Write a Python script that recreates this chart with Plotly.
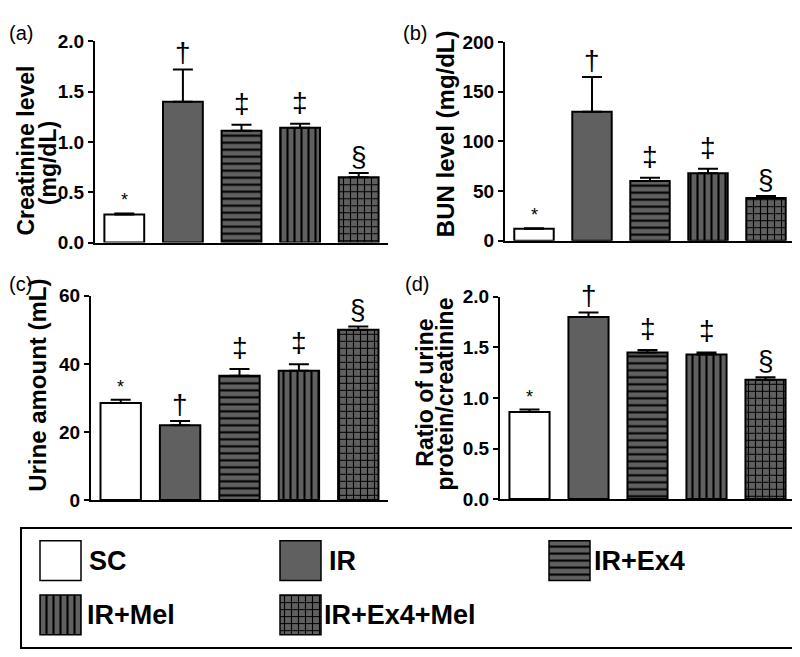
import plotly.graph_objects as go

# ---------------- data ----------------
groups = ["SC", "IR", "IR+Ex4", "IR+Mel", "IR+Ex4+Mel"]
marks = ["*", "†", "‡", "‡", "§"]

creat_mean = [0.28, 1.40, 1.11, 1.14, 0.65]
creat_sem = [0.01, 0.32, 0.06, 0.04, 0.04]

bun_mean = [12, 130, 60, 68, 43]
bun_sem = [0.5, 35, 3.5, 4.5, 2]

urine_mean = [28.5, 22.0, 36.5, 38.0, 50.0]
urine_sem = [1.0, 1.2, 2.0, 1.9, 1.0]

ratio_mean = [0.86, 1.80, 1.45, 1.43, 1.18]
ratio_sem = [0.025, 0.045, 0.025, 0.02, 0.025]

panels = [
    dict(letter="(a)", mean=creat_mean, sem=creat_sem, yrange=[0, 2.0], dtick=0.5, fmt=".1f",
         title=["Creatinine level", "(mg/dL)"]),
    dict(letter="(b)", mean=bun_mean, sem=bun_sem, yrange=[0, 200], dtick=50, fmt="d",
         title=["BUN level (mg/dL)"]),
    dict(letter="(c)", mean=urine_mean, sem=urine_sem, yrange=[0, 60], dtick=20, fmt="d",
         title=["Urine amount (mL)"]),
    dict(letter="(d)", mean=ratio_mean, sem=ratio_sem, yrange=[0, 2.0], dtick=0.5, fmt=".1f",
         title=["Ratio of urine", "protein/creatinine"]),
]

# ---------------- layout / style ----------------
W, H = 800, 657
GRAY = "#606060"
styles = [
    dict(color="white", pattern=dict(shape="")),
    dict(color=GRAY, pattern=dict(shape="")),
    dict(color=GRAY, pattern=dict(shape="-", fgcolor="black", bgcolor=GRAY, size=7, solidity=0.3, fillmode="replace")),
    dict(color=GRAY, pattern=dict(shape="|", fgcolor="black", bgcolor=GRAY, size=7, solidity=0.3, fillmode="replace")),
    dict(color=GRAY, pattern=dict(shape="+", fgcolor="black", bgcolor=GRAY, size=7, solidity=0.3, fillmode="replace")),
]
mark_shift = {"*": 2, "†": 0, "‡": 5, "§": 0}

# pixel boxes of each plot area: (x_left, x_right, y_top, y_bottom)
boxes = [(87, 380, 24, 232), (497, 787, 25, 230), (83, 380, 287, 498), (492, 787, 288, 497)]
letter_pos = [(0, 3), (394, 3), (0, 262), (396, 262)]
title_pos = [[(18, 137), (40, 150)], [(437, 120)], [(30, 380)], [(417, 387), (437, 389)]]
title_size = [23, 24, 24, 23]

FONT = "Liberation Sans, Arial, sans-serif"


def px(x):
    return x / W


def py(y):
    return 1 - y / H


fig = go.Figure()
annotations = []
for i, p in enumerate(panels):
    n = "" if i == 0 else str(i + 1)
    xa, ya = "x" + n, "y" + n
    for j, g in enumerate(groups):
        st = styles[j]
        fig.add_trace(go.Bar(
            x=[j], y=[p["mean"][j]], xaxis=xa, yaxis=ya, width=0.68, showlegend=False,
            marker=dict(color=st["color"], pattern=st["pattern"], line=dict(color="black", width=2)),
            error_y=dict(type="data", symmetric=False, array=[p["sem"][j]], arrayminus=[0],
                         color="black", thickness=2, width=10),
        ))
        top = p["mean"][j] + p["sem"][j]
        annotations.append(dict(
            x=j, y=top, xref=xa, yref=ya, text=marks[j], showarrow=False, yanchor="bottom",
            yshift=mark_shift[marks[j]], borderpad=0,
            font=dict(family=FONT, size=18 if marks[j] == "*" else 28, color="black"),
        ))
    x0, x1, y0, y1 = boxes[i]
    fig.layout["xaxis" + n] = dict(domain=[px(x0), px(x1)], range=[-0.5, 4.5], anchor=ya,
                                   showline=True, linecolor="black", linewidth=2, showticklabels=False,
                                   ticks="", showgrid=False, zeroline=False, fixedrange=True)
    fig.layout["yaxis" + n] = dict(domain=[py(y1), py(y0)], range=p["yrange"], anchor=xa,
                                   dtick=p["dtick"], tickformat=p["fmt"], showline=True,
                                   linecolor="black", linewidth=2, ticks="outside", ticklen=5,
                                   tickwidth=2, tickcolor="black", showgrid=False, zeroline=False,
                                   tickfont=dict(family=FONT, size=19, color="black", weight="bold"))
    # panel letter
    lx, ly = letter_pos[i]
    annotations.append(dict(x=px(lx), y=py(ly), xref="paper", yref="paper", text=p["letter"],
                            showarrow=False, xanchor="left", yanchor="top", borderpad=0,
                            font=dict(family=FONT, size=20, color="black")))
    # y titles
    for t, (tx, ty) in zip(p["title"], title_pos[i]):
        annotations.append(dict(x=px(tx), y=py(ty), xref="paper", yref="paper", text=t,
                                showarrow=False, textangle=-90, xanchor="center", yanchor="middle",
                                borderpad=0,
                                font=dict(family=FONT, size=title_size[i], color="black", weight="bold")))

# ---------------- legend (drawn as a small axis) ----------------
leg_box = (14, 795, 528, 650)
leg_x = [52.5, 292.5, 561.5, 52.5, 292.5]
leg_top = [540, 540, 540, 596, 596]
leg_text_x = [80, 320, 585, 78, 315]
sw_w, sw_h = 41, 41
for j, g in enumerate(groups):
    st = styles[j]
    fig.add_trace(go.Bar(
        x=[leg_x[j]], y=[sw_h], base=[leg_top[j]], width=sw_w, xaxis="x5", yaxis="y5", showlegend=False,
        marker=dict(color=st["color"], pattern=st["pattern"], line=dict(color="black", width=1.5)),
    ))
    annotations.append(dict(x=leg_text_x[j], y=leg_top[j] + sw_h / 2, xref="x5", yref="y5", text=g,
                            showarrow=False, xanchor="left", yanchor="middle", borderpad=0,
                            font=dict(family=FONT, size=27, color="black", weight="bold")))

lx0, lx1, ly0, ly1 = leg_box
fig.layout["xaxis5"] = dict(domain=[px(lx0), px(lx1)], range=[lx0, lx1], anchor="y5", showline=True,
                            mirror=True, linecolor="black", linewidth=2, showticklabels=False,
                            ticks="", showgrid=False, zeroline=False)
fig.layout["yaxis5"] = dict(domain=[py(ly1), py(ly0)], range=[ly1, ly0], anchor="x5", showline=True,
                            mirror=True, linecolor="black", linewidth=2, showticklabels=False,
                            ticks="", showgrid=False, zeroline=False)

fig.update_layout(
    width=W, height=H, margin=dict(l=0, r=0, t=0, b=0),
    paper_bgcolor="white", plot_bgcolor="white", barmode="overlay",
    annotations=annotations, font=dict(family=FONT, color="black"),
)

fig.write_html("out.html")
